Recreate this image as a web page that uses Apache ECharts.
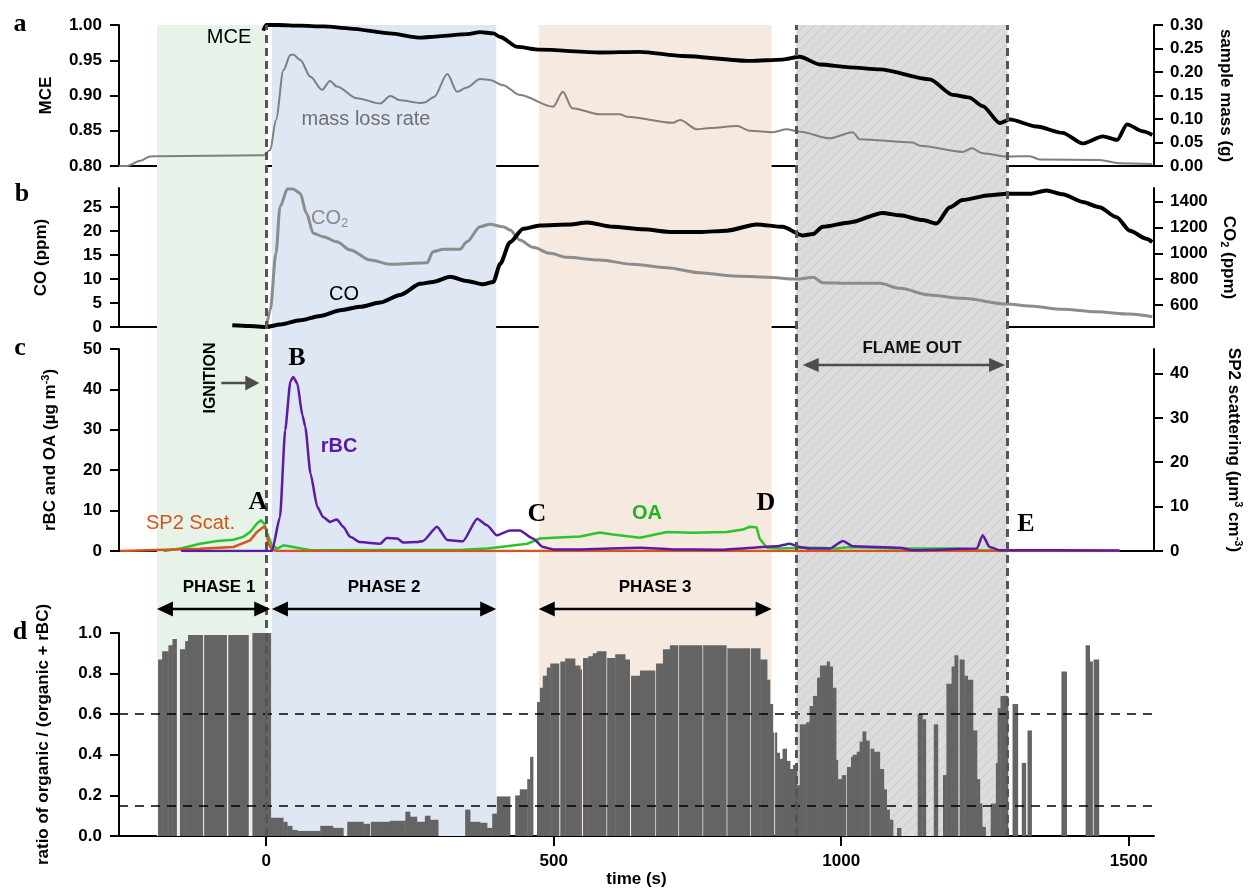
<!DOCTYPE html>
<html><head><meta charset="utf-8">
<script src="https://cdn.jsdelivr.net/npm/echarts@6/dist/echarts.min.js"></script>
<style>html,body{margin:0;padding:0;background:#fff}#c{width:1253px;height:888px}</style>
</head><body><div id="c"></div>
<script>
// ---------------- DATA ----------------
const xRange = [-256, 1544];
const xTicks = [0, 500, 1000, 1500];

const mceTicks = [0.80, 0.85, 0.90, 0.95, 1.00];
const massTicks = [0, 0.05, 0.10, 0.15, 0.20, 0.25, 0.30];
const coTicks = [0, 5, 10, 15, 20, 25];
const co2Ticks = [600, 800, 1000, 1200, 1400];
const aerosolTicks = [0, 10, 20, 30, 40, 50];
const sp2Ticks = [0, 10, 20, 30, 40];
const ratioTicks = [0, 0.2, 0.4, 0.6, 0.8, 1.0];

const mceTime  = [-5, 0, 20, 59, 100, 146, 215, 268, 300, 350, 372, 395, 407, 437, 476, 580, 650, 725, 841, 898, 928, 963, 1015, 1067, 1154, 1194, 1223, 1246, 1276, 1293, 1340, 1385, 1420, 1455, 1480, 1497, 1525, 1541];
const mceValue = [0.992, 1.0, 1.0, 0.999, 0.998, 0.995, 0.988, 0.982, 0.984, 0.987, 0.990, 0.988, 0.983, 0.969, 0.965, 0.961, 0.962, 0.956, 0.949, 0.951, 0.955, 0.944, 0.940, 0.937, 0.923, 0.901, 0.897, 0.885, 0.861, 0.866, 0.856, 0.847, 0.832, 0.842, 0.837, 0.859, 0.849, 0.844];

const massTime  = [-256, -242, -219, -202, -189, -5, 7, 17, 30, 42, 47, 59, 77, 97, 111, 123, 158, 198, 216, 233, 268, 275, 292, 315, 332, 349, 372, 389, 412, 441, 499, 516, 532, 580, 615, 627, 707, 720, 749, 772, 819, 841, 881, 905, 928, 980, 1020, 1032, 1124, 1137, 1211, 1227, 1246, 1290, 1328, 1345, 1449, 1484, 1541];
const massValue = [0.000, 0.000, 0.011, 0.020, 0.021, 0.023, 0.034, 0.098, 0.204, 0.236, 0.237, 0.226, 0.190, 0.162, 0.181, 0.169, 0.144, 0.133, 0.149, 0.140, 0.134, 0.135, 0.147, 0.196, 0.158, 0.167, 0.185, 0.183, 0.172, 0.151, 0.126, 0.158, 0.123, 0.110, 0.110, 0.105, 0.092, 0.098, 0.078, 0.081, 0.085, 0.075, 0.072, 0.078, 0.073, 0.059, 0.072, 0.057, 0.050, 0.043, 0.030, 0.038, 0.027, 0.020, 0.021, 0.014, 0.013, 0.006, 0.004];

const coTime  = [-59, -30, 0, 24, 59, 94, 129, 163, 198, 233, 268, 290, 320, 349, 377, 395, 407, 424, 447, 476, 528, 558, 603, 655, 707, 754, 801, 853, 898, 933, 951, 968, 1015, 1072, 1102, 1142, 1166, 1189, 1211, 1258, 1288, 1328, 1357, 1385, 1420, 1449, 1479, 1502, 1531, 1541];
const coValue = [0.35, 0.2, 0.0, 0.5, 1.4, 2.3, 3.5, 4.2, 5.1, 6.7, 9.0, 9.4, 10.5, 9.6, 8.9, 9.4, 13.2, 17.7, 20.5, 21.2, 21.4, 21.8, 20.9, 20.4, 19.8, 19.8, 20.1, 21.4, 20.9, 19.1, 19.4, 20.9, 21.8, 23.8, 23.3, 22.3, 21.6, 25.0, 26.5, 27.5, 27.8, 27.8, 28.5, 27.7, 26.1, 25.0, 22.9, 20.1, 18.4, 17.7];

const co2Time  = [1, 7, 17, 24, 37, 47, 59, 70, 82, 99, 123, 146, 181, 216, 233, 280, 290, 308, 337, 349, 372, 389, 412, 424, 441, 464, 494, 523, 580, 638, 697, 754, 812, 871, 923, 951, 968, 1015, 1067, 1102, 1154, 1211, 1288, 1328, 1385, 1444, 1502, 1541];
const co2Value = [440, 561, 1000, 1361, 1499, 1499, 1465, 1310, 1155, 1129, 1090, 1026, 949, 915, 918, 928, 1013, 1031, 1031, 1090, 1206, 1225, 1206, 1181, 1104, 1047, 1000, 969, 949, 915, 889, 850, 825, 815, 801, 815, 773, 768, 768, 729, 677, 652, 608, 592, 567, 548, 530, 509];

const rbcTime  = [-148, 10, 24, 33, 42, 47, 54, 63, 68, 77, 89, 99, 111, 123, 134, 146, 163, 198, 210, 228, 238, 262, 273, 297, 315, 342, 367, 384, 401, 424, 441, 464, 481, 499, 546, 650, 707, 788, 888, 911, 928, 945, 980, 1003, 1020, 1102, 1124, 1236, 1246, 1258, 1276, 1484];
const rbcValue = [0, 0, 8.4, 29.9, 41.9, 43.1, 41.5, 33.6, 30.7, 19.2, 10.9, 8.4, 7.2, 7.8, 6.0, 3.5, 2.2, 1.8, 3.2, 3.1, 2.1, 2.2, 2.5, 6.0, 2.7, 2.4, 8.0, 6.4, 3.9, 5.1, 5.1, 3.1, 1.0, 0.4, 0.4, 0.8, 0.4, 0.3, 1.2, 1.8, 1.0, 0.6, 0.6, 2.5, 1.2, 0.8, 0.2, 0.6, 3.9, 1.0, 0.2, 0.1];

const oaTime  = [-179, -149, -115, -85, -57, -40, -28, -16, -9, -3.5, 2, 10, 19, 30, 47, 77, 342, 384, 407, 454, 476, 499, 546, 580, 603, 650, 697, 742, 801, 829, 841, 853, 858, 871, 893, 928, 958, 992, 1015, 1102, 1206, 1223, 1449];
const oaValue = [0, 0.6, 1.8, 2.5, 2.8, 3.5, 4.7, 6.8, 7.6, 6.8, 4.3, 1.4, 0.6, 1.4, 1.0, 0.2, 0.3, 0.6, 1.0, 1.8, 3.1, 3.3, 3.6, 4.6, 4.1, 3.3, 4.7, 4.5, 4.7, 5.3, 6.0, 5.8, 3.1, 0.8, 0.6, 0.8, 0.8, 0.6, 1.0, 0.6, 0.6, 0.2, 0.0];

const sp2Time  = [-254, -115, -57, -28, -16, -5, 0, 3.5, 10, 20, 1484];
const sp2Value = [0, 0.5, 0.9, 2.4, 4.3, 5.4, 5.0, 1.7, 0.3, 0, 0];

// ratio of organic/(organic + rBC): each bar covers [ratioFrom, ratioTo] seconds
const ratioFrom = [-188,-181,-170,-163,-150,-141,-136,-108,-66,-24,
  8,29.5,36.5,45,54,94,116,141,169,182,215,242,250,262,276,285,346,354.5,372,384,393,401,433,441,454,459,
  471,476,481,488,494,511.5,520,537,546,551,560,568,575,593,607,624,634.5,650,678,690,702,718,760,802,843,859,871,876,881,885,888,893,898,905,911,916,923,
  928,939,945,951,958,963,975,980,985,991,994,1001,1010,1017,1020,1027,1032,1037,1043,1051,1057,1067,1074,1079,1084,1097,
  1133,1141,1161,1177,1183,1192,1197,1206,1214,1220,1229,1236,1241,1245,1260,1269,1272,1277,1298,1314,1324,1383,1425,1432,1439];
const ratioTo = [-181,-170,-163,-156,-141,-136,-110.5,-69,-31,8,
  29.5,36.5,45,54,94,116,134,169,180,215,242,250,262,276,285,299,354.5,372,384,393,401,424,441,454,459,464,
  476,481,488,494,509,520,537,546,548.5,560,568,575,591,607,624,632,650,676,690,702,716,758,800,841,859,871,876,881,883,888,893,898,905,911,916,923,928,
  939,945,951,958,963,975,980,985,991,994,1001,1008,1017,1020,1027,1032,1037,1043,1049,1057,1067,1074,1079,1084,1090,1104,
  1141,1147,1168,1183,1192,1197,1203,1214,1220,1229,1236,1241,1245,1251,1269,1272,1277,1290,1307,1321,1331,1392,1432,1437,1448];
const ratioValue = [0.87,0.91,0.94,0.97,0.92,0.96,0.99,0.99,0.99,1.0,
  0.09,0.07,0.05,0.03,0.025,0.05,0.04,0.07,0.06,0.07,0.075,0.12,0.095,0.07,0.10,0.08,0.13,0.07,0.065,0.04,0.11,0.195,0.20,0.23,0.28,0.39,
  0.66,0.73,0.79,0.83,0.85,0.86,0.875,0.84,0.82,0.877,0.885,0.90,0.91,0.877,0.895,0.87,0.79,0.815,0.85,0.92,0.94,0.94,0.94,0.925,0.925,0.87,0.77,0.65,0.51,0.51,0.41,0.38,0.43,0.37,0.33,0.35,0.25,
  0.55,0.56,0.64,0.69,0.78,0.84,0.86,0.835,0.73,0.375,0.28,0.30,0.34,0.39,0.40,0.415,0.465,0.515,0.47,0.43,0.415,0.33,0.23,0.13,0.08,0.04,
  0.60,0.575,0.55,0.30,0.75,0.835,0.89,0.87,0.79,0.77,0.52,0.28,0.16,0.045,0.16,0.36,0.63,0.69,0.65,0.36,0.52,0.81,0.94,0.86,0.87];

const ratioRefLines = [0.6, 0.15];
const phaseNames = ['PHASE 1', 'PHASE 2', 'PHASE 3'];
const phaseStart = [-190, 10, 474];
const phaseEnd   = [0, 400, 879];
const flameOut   = [922, 1289];
const eventLines = [0, 922, 1289];
const phaseArrows = [[-190, 7], [10, 400], [474, 879]];
const flameArrow = [933, 1285];
const ignitionArrow = [-78, -12];

// ---------------- CHART ----------------
const FONT = '"Liberation Sans", Arial, Helvetica, sans-serif';
const SERIF = '"Liberation Serif", "Times New Roman", serif';
const zip = (a, b) => a.map((t, i) => [t, b[i]]);

function hatchCanvas() {
  const c = document.createElement('canvas'); c.width = 10; c.height = 10;
  const g = c.getContext('2d');
  g.fillStyle = '#dcdcdc'; g.fillRect(0, 0, 10, 10);
  g.strokeStyle = '#c9c9c9'; g.lineWidth = 1;
  g.beginPath();
  g.moveTo(0, 10); g.lineTo(10, 0);
  g.moveTo(-5, 5); g.lineTo(5, -5);
  g.moveTo(5, 15); g.lineTo(15, 5);
  g.stroke();
  return c;
}

const chart = echarts.init(document.getElementById('c'), null, {renderer: 'canvas'});

const gridDefs = [
  {top: 25, height: 141},
  {top: 188, height: 139},
  {top: 349, height: 202},
  {top: 633, height: 203},
  {top: 25, height: 811}
];
const grids = gridDefs.map(g => ({left: 119, right: 99, top: g.top, height: g.height, outerBoundsMode: 'none', containLabel: false}));

const axLine = {show: true, onZero: false, lineStyle: {color: '#000', width: 2}};
const tickStyle = {color: '#000', width: 2};
const labStyle = {fontFamily: FONT, fontWeight: 'bold', fontSize: 17, color: '#000'};
const nameStyle = {fontFamily: FONT, fontWeight: 'bold', fontSize: 17, color: '#000'};

function xAx(i, full) {
  const o = {type: 'value', gridIndex: i, min: xRange[0], max: xRange[1], splitLine: {show: false},
    axisLine: Object.assign({}, axLine), axisTick: {show: false}, axisLabel: {show: false}};
  if (full) {
    o.axisTick = {show: true, length: 10, lineStyle: tickStyle, customValues: xTicks};
    o.axisLabel = Object.assign({show: true, margin: 17, customValues: xTicks, formatter: v => String(v)}, labStyle);
    o.name = 'time (s)'; o.nameLocation = 'middle'; o.nameGap = 34; o.nameTextStyle = nameStyle;
  }
  if (i === 4) { o.show = false; }
  return o;
}
function yAx(grid, pos, min, max, ticks, name, gap, fmt, rich) {
  const o = {type: 'value', gridIndex: grid, position: pos, min, max, splitLine: {show: false},
    axisLine: Object.assign({}, axLine),
    axisTick: {show: true, length: 9, lineStyle: tickStyle, customValues: ticks},
    axisLabel: Object.assign({margin: pos === 'left' ? 17 : 16, customValues: ticks, formatter: fmt || (v => String(v))}, labStyle),
    name, nameLocation: 'middle', nameGap: gap,
    nameTextStyle: Object.assign({}, nameStyle, rich ? {rich} : {})};
  if (pos === 'right') o.nameRotate = -90;
  return o;
}
const supRich = {
  sup: {fontFamily: FONT, fontWeight: 'bold', fontSize: 11, color: '#000', verticalAlign: 'top', lineHeight: 20},
  sub: {fontFamily: FONT, fontWeight: 'bold', fontSize: 11, color: '#000', verticalAlign: 'bottom', lineHeight: 20}
};

const yAxes = [
  yAx(0, 'left', 0.8, 1.0, mceTicks, 'MCE', 64, v => v.toFixed(2)),
  yAx(0, 'right', 0, 0.3, massTicks, 'sample mass (g)', 63, v => v.toFixed(2)),
  yAx(1, 'left', 0, 29, coTicks, 'CO (ppm)', 69),
  yAx(1, 'right', 430, 1506, co2Ticks, 'CO{sub|2} (ppm)', 64, null, supRich),
  yAx(2, 'left', 0, 50, aerosolTicks, 'rBC and OA (µg m{sup|-3})', 59, null, supRich),
  yAx(2, 'right', 0, 45.5, sp2Ticks, 'SP2 scattering (µm{sup|3} cm{sup|-3})', 70, null, supRich),
  yAx(3, 'left', 0, 1.0, ratioTicks, 'ratio of organic / (organic + rBC)', 67, v => v.toFixed(1)),
  {type: 'value', gridIndex: 4, min: 0, max: 1, show: false, splitLine: {show: false}}
];

const lineS = (name, xi, yi, data, color, width, smooth) => ({
  name, type: 'line', xAxisIndex: xi, yAxisIndex: yi, data, showSymbol: false, symbol: 'none',
  smooth: smooth || false, smoothMonotone: 'x',
  lineStyle: {color, width, join: 'round'}, itemStyle: {color}, z: 3, silent: true, animation: false
});

const hatch = hatchCanvas();
const shadeColors = ['#e7f3e8', '#dfe6f4', '#f6e9df'];
const areas = phaseStart.map((s, i) => [{xAxis: s, itemStyle: {color: shadeColors[i]}}, {xAxis: phaseEnd[i]}]);
areas.push([{xAxis: flameOut[0], itemStyle: {color: {image: hatch, repeat: 'repeat'}}}, {xAxis: flameOut[1]}]);

const ratioData = ratioFrom.map((t, i) => [t, ratioTo[i], ratioValue[i]]);

const option = {
  animation: false,
  backgroundColor: '#fff',
  grid: grids,
  xAxis: [xAx(0), xAx(1), xAx(2), xAx(3, true), xAx(4)],
  yAxis: yAxes,
  series: [
    {type: 'line', xAxisIndex: 4, yAxisIndex: 7, data: [], z: -5, silent: true,
      markArea: {silent: true, data: areas, label: {show: false}}},
    lineS('mass loss rate', 0, 1, zip(massTime, massValue), '#7f7f7f', 2, 0.3),
    lineS('MCE', 0, 0, zip(mceTime, mceValue), '#000', 3.8, 0.25),
    lineS('CO2', 1, 3, zip(co2Time, co2Value), '#8c8c8c', 3, 0.3),
    lineS('CO', 1, 2, zip(coTime, coValue), '#000', 4, 0.25),
    lineS('OA', 2, 4, zip(oaTime, oaValue), '#2cc42c', 2.5),
    lineS('SP2 Scat.', 2, 5, zip(sp2Time, sp2Value), '#d4561c', 2.5),
    lineS('rBC', 2, 4, zip(rbcTime, rbcValue), '#5b1ba3', 2.5, 0.2),
    {name: 'ratio', type: 'custom', xAxisIndex: 3, yAxisIndex: 6, silent: true, z: 3, clip: true,
      encode: {x: [0, 1], y: 2},
      data: ratioData,
      renderItem: (params, api) => {
        const p0 = api.coord([api.value(0), api.value(2)]);
        const p1 = api.coord([api.value(1), 0]);
        return {type: 'rect', shape: {x: p0[0], y: p0[1], width: p1[0] - p0[0] + 0.4, height: p1[1] - p0[1]},
          style: {fill: '#646464'}};
      }},
    {type: 'line', xAxisIndex: 3, yAxisIndex: 6, data: [], z: 6, silent: true,
      markLine: {silent: true, symbol: ['none', 'none'], label: {show: false},
        lineStyle: {color: '#000', width: 1.5, type: [9, 7]},
        data: ratioRefLines.map(v => ({yAxis: v}))}},
    {type: 'line', xAxisIndex: 4, yAxisIndex: 7, data: [], z: 8, silent: true,
      markLine: {silent: true, symbol: ['none', 'none'], label: {show: false},
        lineStyle: {color: '#555', width: 3, type: [8, 5]},
        data: eventLines.map(t => ({xAxis: t}))}}
  ]
};
chart.setOption(option);

// ---------------- ANNOTATIONS ----------------
const px = t => chart.convertToPixel({xAxisIndex: 4}, t);
function arrow(t1, t2, y, color, lw, L, H, both) {
  const x1 = px(t1), x2 = px(t2);
  const els = [
    {type: 'line', z: 100, silent: true, shape: {x1: both ? x1 + L - 2 : x1, y1: y, x2: x2 - L + 2, y2: y}, style: {stroke: color, lineWidth: lw}},
    {type: 'polygon', z: 100, silent: true, shape: {points: [[x2, y], [x2 - L, y - H / 2], [x2 - L, y + H / 2]]}, style: {fill: color}}
  ];
  if (both) els.push({type: 'polygon', z: 100, silent: true, shape: {points: [[x1, y], [x1 + L, y - H / 2], [x1 + L, y + H / 2]]}, style: {fill: color}});
  return els;
}
function txt(text, x, y, st, extra) {
  return Object.assign({type: 'text', x, y, z: 100, silent: true,
    style: Object.assign({text, fill: '#000', fontFamily: FONT, fontSize: 20, align: 'center', verticalAlign: 'middle'}, st)}, extra || {});
}
const letter = (t, x, y) => txt(t, x, y, {fontFamily: SERIF, fontWeight: 'bold', fontSize: 26});

const g = [];
phaseArrows.forEach(a => g.push(...arrow(a[0], a[1], 609, '#000', 2.5, 16, 15, true)));
g.push(...arrow(flameArrow[0], flameArrow[1], 365, '#4d4d4d', 2.5, 16, 14, true));
g.push(...arrow(ignitionArrow[0], ignitionArrow[1], 383, '#4d4d4d', 2.5, 14, 15, false));

const phaseLabelX = [219, 384, 655];
phaseNames.forEach((n, i) => g.push(txt(n, phaseLabelX[i], 587, {fontWeight: 'bold', fontSize: 17})));
g.push(txt('FLAME OUT', 912, 348, {fontWeight: 'bold', fontSize: 17, fill: '#111'}));
g.push(txt('IGNITION', 211, 378, {fontWeight: 'bold', fontSize: 16}, {rotation: Math.PI / 2}));

g.push(txt('MCE', 229, 37, {}));
g.push(txt('mass loss rate', 366, 119, {fill: '#707070'}));
g.push(txt('CO{s|2}', 311, 218, {fill: '#8a8a8a', align: 'left',
  rich: {s: {fontFamily: FONT, fontSize: 13, fill: '#8a8a8a', verticalAlign: 'bottom', lineHeight: 24}}}));
g.push(txt('CO', 344, 294, {}));
g.push(txt('SP2 Scat.', 146, 523, {fill: '#d2561c', align: 'left'}));
g.push(txt('rBC', 339, 446, {fill: '#5b1ba3', fontWeight: 'bold'}));
g.push(txt('OA', 647, 513, {fill: '#1fb41f', fontWeight: 'bold'}));

g.push(letter('A', 258, 502));
g.push(letter('B', 297, 358));
g.push(letter('C', 537, 514));
g.push(letter('D', 766, 503));
g.push(letter('E', 1026, 524));

g.push(letter('a', 20, 24));
g.push(letter('b', 22, 194));
g.push(letter('c', 20, 348));
g.push(letter('d', 20, 632));

chart.setOption({graphic: g});
</script></body></html>
